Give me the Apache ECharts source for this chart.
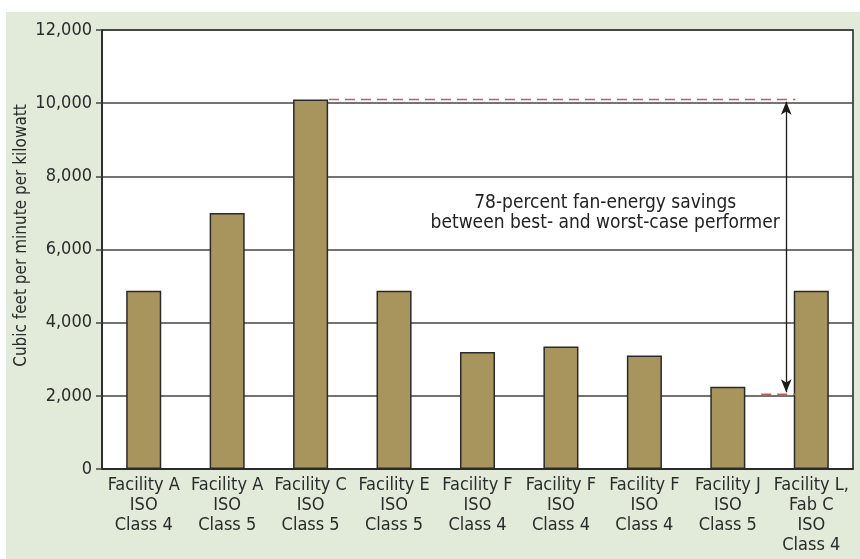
<!DOCTYPE html>
<html>
<head>
<meta charset="utf-8">
<script src="https://cdn.jsdelivr.net/npm/echarts@6/dist/echarts.min.js"></script>
<style>
html,body{margin:0;padding:0;background:#fff;}
#c{width:860px;height:559px;}
</style>
</head>
<body>
<div id="c"></div>
<script>
const categories = [
  "Facility A\nISO\nClass 4",
  "Facility A\nISO\nClass 5",
  "Facility C\nISO\nClass 5",
  "Facility E\nISO\nClass 5",
  "Facility F\nISO\nClass 4",
  "Facility F\nISO\nClass 4",
  "Facility F\nISO\nClass 4",
  "Facility J\nISO\nClass 5",
  "Facility L,\nFab C\nISO\nClass 4"
];
const values = [4870, 7000, 10100, 4870, 3200, 3350, 3100, 2250, 4870];
const yTicks = [0, 2000, 4000, 6000, 8000, 10000, 12000];
const bestLevel = 10100;
const worstLevel = 2040;
const annotationText = "78-percent fan-energy savings\nbetween best- and worst-case performer";

const FONT = "'Liberation Sans Narrow', 'DejaVu Sans Condensed', sans-serif";
const chart = echarts.init(document.getElementById('c'), null, {renderer: 'canvas'});

chart.setOption({
  animation: false,
  backgroundColor: '#ffffff',
  graphic: [{
    type: 'rect', z: -10, silent: true,
    shape: {x: 6, y: 12, width: 854, height: 547},
    style: {fill: '#e2ead9'}
  }],
  grid: {
    left: 102, right: 7, top: 30, bottom: 90,
    show: true, backgroundColor: '#ffffff', borderColor: '#1e1e1e', borderWidth: 1.5
  },
  xAxis: [{
    type: 'category',
    data: categories,
    axisTick: {show: false},
    axisLine: {lineStyle: {color: '#222', width: 1.5}},
    axisLabel: {
      interval: 0, fontFamily: FONT, fontSize: 18, lineHeight: 20,
      color: '#2b2b2b', margin: 6
    }
  }, {
    type: 'value', min: -0.5, max: 8.5, show: false
  }],
  yAxis: {
    type: 'value', min: yTicks[0], max: yTicks[yTicks.length - 1], interval: 2000,
    name: 'Cubic feet per minute per kilowatt',
    nameLocation: 'middle', nameGap: 72, nameRotate: 90, nameMoveOverlap: false,
    nameTextStyle: {fontFamily: FONT, fontSize: 17, color: '#2b2b2b', padding: [0, 0, 0, 28]},
    axisLine: {show: true, onZero: false, lineStyle: {color: '#222', width: 1.5}},
    axisTick: {show: true, length: 6, lineStyle: {color: '#444', width: 1.5}},
    axisLabel: {
      fontFamily: FONT, fontSize: 18, color: '#2b2b2b', margin: 10,
      formatter: v => v.toLocaleString('en-US')
    },
    splitLine: {lineStyle: {color: '#444', width: 1.5}}
  },
  series: [{
    type: 'bar',
    data: values,
    barWidth: '42%',
    itemStyle: {color: '#a8955e', borderColor: '#2a2a2a', borderWidth: 1.5},
    z: 3
  }, {
    type: 'line', xAxisIndex: 1, symbol: 'none', z: 4, silent: true,
    data: [[2.22, bestLevel], [7.81, bestLevel]],
    itemStyle: {color: '#b5645a'},
    lineStyle: {color: '#b5645a', type: [10, 6], width: 1.5}
  }, {
    type: 'line', xAxisIndex: 1, symbol: 'none', z: 4, silent: true,
    data: [[7.4, worstLevel], [7.81, worstLevel]],
    itemStyle: {color: '#b5645a'},
    lineStyle: {color: '#b5645a', type: [10, 6], width: 1.5},
    markLine: {
      silent: true,
      symbol: ['arrow', 'arrow'],
      symbolSize: [8, 13],
      label: {show: false},
      lineStyle: {color: '#1a1a1a', type: 'solid', width: 1.3},
      data: [[{coord: [7.7, bestLevel - 60]}, {coord: [7.7, worstLevel + 60]}]]
    }
  }, {
    type: 'scatter', xAxisIndex: 1, symbolSize: 0, z: 5, silent: true,
    data: [[5.53, 7000]],
    itemStyle: {opacity: 1},
    label: {
      show: true, position: 'inside', formatter: annotationText,
      fontFamily: FONT, fontSize: 19, lineHeight: 20, color: '#222', align: 'center'
    }
  }]
});
</script>
</body>
</html>
